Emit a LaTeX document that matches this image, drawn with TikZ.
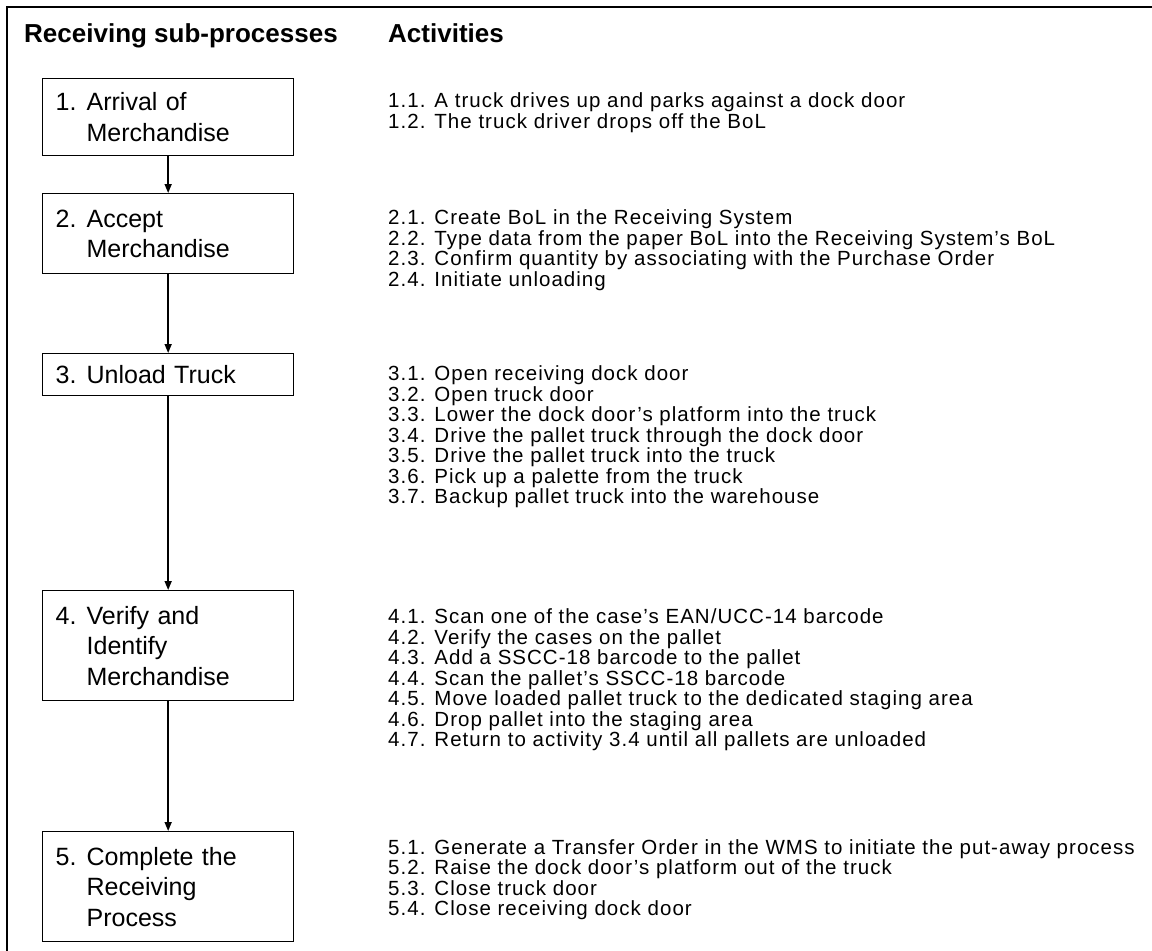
\documentclass[tikz,border=0pt]{standalone}
\usepackage{fontspec}
\setmainfont{Liberation Sans}
\newfontfamily\actfont{Liberation Sans}[LetterSpace=5,Ligatures=TeX]
\usetikzlibrary{arrows.meta}
\begin{document}
\begin{tikzpicture}[x=1pt,y=-1pt,
  frame/.style={line width=1.6pt},
  proc/.style={draw, line width=1.3pt, text width=225pt, inner xsep=13pt,
    inner ysep=0pt, align=left, anchor=north west,
    font=\fontsize{25}{30.5}\selectfont},
  flow/.style={line width=1.6pt, -{Triangle[length=9pt,width=7pt]}},
  head/.style={font=\fontsize{26}{30}\selectfont\bfseries, anchor=base west, inner sep=0pt},
  act/.style={font=\actfont\fontsize{20.5}{22}\selectfont, anchor=base west, inner sep=0pt}]
\newcommand\pnum[1]{\makebox[31pt][l]{#1}}
\useasboundingbox (0,0) rectangle (1152,951);

% outer frame (open to the right and bottom)
\coordinate (fb) at (7,951);
\coordinate (ft) at (7,7);
\coordinate (fr) at (1152,7);
\draw[frame] (fb) -- (ft) -- (fr);

% column headings
\node[head] (h1) at (24,42) {Receiving sub-processes};
\node[head] (h2) at (388,42) {Activities};

% sub-process boxes
\node[proc, minimum height=77pt] (b1) at (42,78)  {\pnum{1.}Arrival of\\\hspace*{31pt}Merchandise};
\node[proc, minimum height=80pt] (b2) at (42,193) {\pnum{2.}Accept\\\hspace*{31pt}Merchandise};
\node[proc, minimum height=42pt] (b3) at (42,353) {\pnum{3.}Unload Truck};
\node[proc, minimum height=110pt] (b4) at (42,590) {\pnum{4.}Verify and\\\hspace*{31pt}Identify\\\hspace*{31pt}Merchandise};
\node[proc, minimum height=110pt] (b5) at (42,831) {\pnum{5.}Complete the\\\hspace*{31pt}Receiving\\\hspace*{31pt}Process};

\draw[flow] (b1) -- (b2);
\draw[flow] (b2) -- (b3);
\draw[flow] (b3) -- (b4);
\draw[flow] (b4) -- (b5);

% activities
\node[act] (a11) at (388,107) {1.1. A truck drives up and parks against a dock door};
\node[act] (a12) at (388,128) {1.2. The truck driver drops off the BoL};

\node[act] (a21) at (388,224) {2.1. Create BoL in the Receiving System};
\node[act] (a22) at (388,245) {2.2. Type data from the paper BoL into the Receiving System's BoL};
\node[act] (a23) at (388,265) {2.3. Confirm quantity by associating with the Purchase Order};
\node[act] (a24) at (388,286) {2.4. Initiate unloading};

\node[act] (a31) at (388,380) {3.1. Open receiving dock door};
\node[act] (a32) at (388,401) {3.2. Open truck door};
\node[act] (a33) at (388,421) {3.3. Lower the dock door's platform into the truck};
\node[act] (a34) at (388,442) {3.4. Drive the pallet truck through the dock door};
\node[act] (a35) at (388,462) {3.5. Drive the pallet truck into the truck};
\node[act] (a36) at (388,483) {3.6. Pick up a palette from the truck};
\node[act] (a37) at (388,503) {3.7. Backup pallet truck into the warehouse};

\node[act] (a41) at (388,623) {4.1. Scan one of the case's EAN/UCC-14 barcode};
\node[act] (a42) at (388,644) {4.2. Verify the cases on the pallet};
\node[act] (a43) at (388,664) {4.3. Add a SSCC-18 barcode to the pallet};
\node[act] (a44) at (388,685) {4.4. Scan the pallet's SSCC-18 barcode};
\node[act] (a45) at (388,705) {4.5. Move loaded pallet truck to the dedicated staging area};
\node[act] (a46) at (388,726) {4.6. Drop pallet into the staging area};
\node[act] (a47) at (388,746) {4.7. Return to activity 3.4 until all pallets are unloaded};

\node[act] (a51) at (388,854) {5.1. Generate a Transfer Order in the WMS to initiate the put-away process};
\node[act] (a52) at (388,874) {5.2. Raise the dock door's platform out of the truck};
\node[act] (a53) at (388,895) {5.3. Close truck door};
\node[act] (a54) at (388,915) {5.4. Close receiving dock door};
\end{tikzpicture}
\end{document}
